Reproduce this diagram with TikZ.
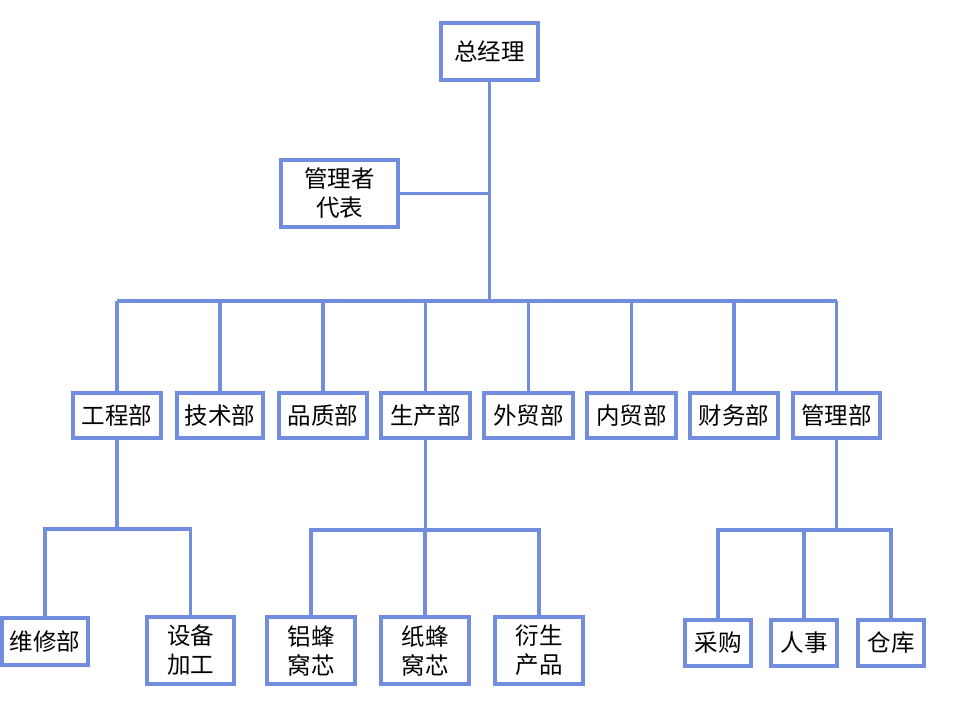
\documentclass[tikz,border=0pt]{standalone}
\usepackage{fontspec}
\setmainfont{Noto Sans CJK SC}
\usepackage{tikz}
\usetikzlibrary{positioning, calc}

\definecolor{orgblue}{RGB}{112,141,222}

\begin{document}
\begin{tikzpicture}[
		x=1pt, y=-1pt,
		% boxes and connectors of the chart
		box/.style={draw=orgblue, line width=3.5pt, fill=white, align=center,
			inner sep=0pt, font=\fontsize{23.5}{29}\selectfont},
		dept/.style={box, minimum width=88pt, minimum height=45pt},
		twoline/.style={box, minimum width=88pt, minimum height=67pt},
		small/.style={box, minimum width=66pt, minimum height=46pt},
		link/.style={draw=orgblue, line width=3.5pt}
		]
		
		\useasboundingbox (0,0) rectangle (955,704);
		
		% --- 1. TOP LEVEL ---
		\node[box, minimum width=97pt, minimum height=57pt] (gm) at (489.5,51.5) {总经理};
		\node[box, minimum width=117pt, minimum height=67pt] (rep) at (339.5,193.5) {管理者\\代表};
		
		\coordinate (bus) at (489.5,301);
		
		% --- 2. DEPARTMENTS ---
		\node[dept] (eng) at (117,415.5) {工程部};
		\node[dept, minimum width=86pt] (tech) at (220,415.5) {技术部};
		\node[dept] (qual) at (323,415.5) {品质部};
		\node[dept, minimum width=89pt] (prod) at (425.5,415.5) {生产部};
		\node[dept, minimum width=89pt] (fort) at (528.5,415.5) {外贸部};
		\node[dept, minimum width=89pt] (dom) at (631.5,415.5) {内贸部};
		\node[dept] (fin) at (734,415.5) {财务部};
		\node[dept, minimum width=87pt] (mgmt) at (836.5,415.5) {管理部};
		
		% --- 3. SUB UNITS ---
		\node[box, minimum width=86pt, minimum height=47pt] (repair) at (45,641.5) {维修部};
		\node[twoline, minimum width=87pt] (equip) at (190.5,650.5) {设备\\加工};
		
		\node[twoline] (alu) at (311,650.5) {铝蜂\\窝芯};
		\node[twoline] (paper) at (425,650.5) {纸蜂\\窝芯};
		\node[twoline] (deriv) at (539,650.5) {衍生\\产品};
		
		\node[small] (buy) at (718,643) {采购};
		\node[small] (hr) at (804,643) {人事};
		\node[small] (store) at (891,643) {仓库};
		
		% --- CONNECTORS ---
		\draw[link] (gm.south) -- (bus);
		\draw[link] (rep.east) -- (rep.east -| gm.south);
		\draw[link] (eng.north |- bus) -- (mgmt.north |- bus);
		\foreach \d in {eng, tech, qual, prod, fort, dom, fin, mgmt} {
			\draw[link] (\d.north) -- (\d.north |- bus);
		}
		
		% engineering
		\coordinate (engbus) at ($(eng.south)+(0,89)$);
		\draw[link] (eng.south) -- (engbus);
		\draw[link] (repair.north) |- (engbus) -| (equip.north);
		
		% production
		\coordinate (prodbus) at ($(prod.south)+(0,90)$);
		\draw[link] (prod.south) -- (prodbus);
		\draw[link] (alu.north) |- (prodbus) -| (deriv.north);
		\draw[link] (paper.north) -- (paper.north |- prodbus);
		
		% management
		\coordinate (mgmtbus) at ($(mgmt.south)+(0,90)$);
		\draw[link] (mgmt.south) -- (mgmtbus);
		\draw[link] (buy.north) |- (mgmtbus) -| (store.north);
		\draw[link] (hr.north) -- (hr.north |- mgmtbus);
		
	\end{tikzpicture}
\end{document}
